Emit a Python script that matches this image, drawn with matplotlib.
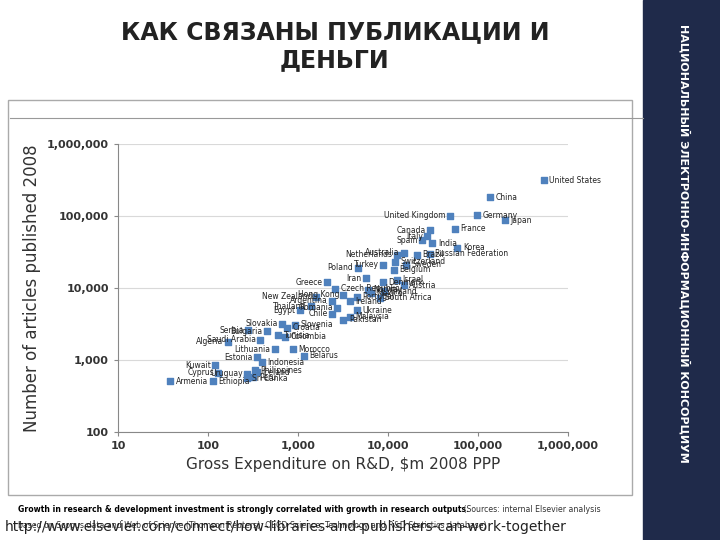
import numpy as np
import matplotlib.pyplot as plt
from matplotlib.patches import Rectangle
from matplotlib.ticker import FixedLocator, NullLocator

# Data (R&D $m, articles)
countries = ['United States', 'China', 'Japan', 'Germany', 'United Kingdom', 'France', 'Canada',
             'Italy', 'Spain', 'India', 'Korea', 'Australia', 'Brazil', 'Russian Federation',
             'Netherlands', 'Switzerland', 'Sweden', 'Poland', 'Turkey', 'Belgium', 'Iran',
             'Denmark', 'Israel', 'Austria', 'Greece', 'Czech Republic', 'Hong Kong', 'Finland',
             'Portugal', 'Mexico', 'Norway', 'South Africa', 'New Zealand', 'Argentina', 'Ireland',
             'Thailand', 'Egypt', 'Romania', 'Ukraine', 'Chile', 'Malaysia', 'Pakistan',
             'Slovakia', 'Slovenia', 'Croatia', 'Serbia', 'Bulgaria', 'Tunisia', 'Saudi Arabia',
             'Algeria', 'Colombia', 'Lithuania', 'Morocco', 'Belarus', 'Estonia', 'Indonesia',
             'Kuwait', 'Cyprus', 'Philippines', 'Uruguay', 'Iceland', 'Peru', 'Sri Lanka',
             'Armenia', 'Ethiopia']
spend = [540000, 135000, 200000, 98000, 49000, 55000, 29000,
         27000, 24000, 31000, 59000, 15000, 21000, 29000,
         12500, 12000, 16000, 4600, 8800, 11700, 5700,
         8800, 12500, 15000, 2100, 2600, 3200, 9000,
         4500, 6500, 6000, 8100, 1600, 2400, 3800,
         1380, 1050, 2700, 4500, 2400, 3800, 3200,
         660, 930, 760, 280, 450, 600, 380,
         165, 720, 550, 880, 1170, 350, 400,
         120, 130, 330, 270, 350, 320, 270,
         38, 114]
articles = [316000, 183000, 87000, 102000, 100000, 66000, 63000,
            52000, 46000, 42000, 36000, 31000, 29000, 30000,
            29000, 23000, 21000, 19000, 21000, 18000, 13700,
            12000, 13000, 11000, 12000, 9800, 8000, 9000,
            7500, 8500, 9500, 7300, 7500, 6600, 6500,
            5600, 4900, 5300, 4900, 4400, 4000, 3600,
            3200, 3100, 2800, 2600, 2500, 2200, 1900,
            1780, 2100, 1400, 1400, 1140, 1100, 930,
            850, 660, 720, 640, 680, 580, 560,
            510, 510]
left_labels = {'United Kingdom', 'Canada', 'Italy', 'Spain', 'Australia', 'Netherlands', 'Poland',
               'Turkey', 'Greece', 'New Zealand', 'Thailand', 'Egypt', 'Slovakia', 'Serbia',
               'Bulgaria', 'Saudi Arabia', 'Algeria', 'Lithuania', 'Estonia', 'Kuwait', 'Cyprus',
               'Uruguay', 'Iran', 'Hong Kong', 'Argentina', 'Romania', 'Chile'}

xticks = [10, 100, 1000, 10000, 100000, 1000000]
yticks = [100, 1000, 10000, 100000, 1000000]

fig = plt.figure(figsize=(7.2, 5.4), dpi=100)

# slide decorations
fig.patches.append(Rectangle((643/720, 0), 77/720, 1, transform=fig.transFigure, color='#1f2a4a', zorder=0))
fig.text(0.95, 0.55, 'НАЦИОНАЛЬНЫЙ ЭЛЕКТРОННО-ИНФОРМАЦИОННЫЙ КОНСОРЦИУМ', rotation=270,
         color='white', fontsize=8, fontweight='bold', ha='center', va='center')
fig.text(0.465, 0.915, 'КАК СВЯЗАНЫ ПУБЛИКАЦИИ И\nДЕНЬГИ', ha='center', va='center',
         fontsize=17, fontweight='bold', color='#222222', linespacing=1.2)
fig.lines.append(plt.Line2D([10/720, 643/720], [1-118/540]*2, transform=fig.transFigure, color='#999999', lw=0.8))
fig.patches.append(Rectangle((8/720, 1-495/540), 624/720, 395/540, transform=fig.transFigure,
                             fill=False, ec='#aaaaaa', lw=1))
fig.text(18/720, 1-510/540, 'Growth in research & development investment is strongly correlated with growth in research outputs.',
         fontsize=5.6, fontweight='bold', va='center')
fig.text(0.64, 1-510/540, ' (Sources: internal Elsevier analysis', fontsize=5.6, va='center', color='#333333')
fig.text(18/720, 1-526/540, 'based on Scopus data and Web of Science (Thomson Reuters); OECD Science, Technology and R&D Statistics database)',
         fontsize=5.6, va='center', color='#333333')
fig.text(5/720, 1-527/540, 'http://www.elsevier.com/connect/how-libraries-and-publishers-can-work-together',
         fontsize=10, va='center', color='#222222')

ax = fig.add_axes([118/720, 1-432/540, 450/720, 288/540])
ax.set_xscale('log')
ax.set_yscale('log')
ax.set_xlim(10, 1000000)
ax.set_ylim(100, 1000000)
ax.scatter(spend, articles, marker='s', s=22, color='#4f81bd', zorder=3)
for name, xv, yv in zip(countries, spend, articles):
    if name in left_labels:
        ax.annotate(name, (xv, yv), xytext=(-3, 0), textcoords='offset points', ha='right', va='center', fontsize=5.5, color='#222222')
    else:
        ax.annotate(name, (xv, yv), xytext=(4, 0), textcoords='offset points', ha='left', va='center', fontsize=5.5, color='#222222')

ax.xaxis.set_major_locator(FixedLocator(xticks))
ax.yaxis.set_major_locator(FixedLocator(yticks))
ax.xaxis.set_minor_locator(NullLocator())
ax.yaxis.set_minor_locator(NullLocator())
ax.set_xticklabels([f'{v:,}' for v in xticks], fontsize=8, fontweight='bold', color='#333333')
ax.set_yticklabels([f'{v:,}' for v in yticks], fontsize=8, fontweight='bold', color='#333333')
ax.grid(axis='y', color='#d9d9d9', lw=0.8)
ax.set_axisbelow(True)
for s in ['top', 'right']:
    ax.spines[s].set_visible(False)
for s in ['left', 'bottom']:
    ax.spines[s].set_color('#888888')
ax.tick_params(length=3, color='#888888')
ax.set_xlabel('Gross Expenditure on R&D, $m 2008 PPP', fontsize=11, color='#333333')
ax.set_ylabel('Number of articles published 2008', fontsize=12, color='#333333')

fig.savefig('out.png', dpi=100)
